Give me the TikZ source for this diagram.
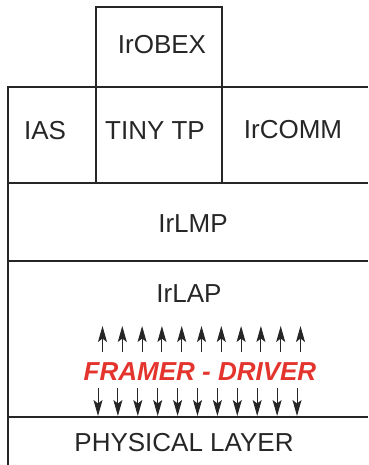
\documentclass[tikz,border=0pt]{standalone}
\usepackage{fontspec}
\setmainfont{Liberation Sans}
\usepackage{tikz}
\usetikzlibrary{arrows.meta, positioning}
\definecolor{framerred}{RGB}{228,52,46}

\begin{document}
\begin{tikzpicture}[
    x=1pt, y=-1pt,
    layer/.style={line width=1.2pt, black!85},
    layername/.style={inner sep=0pt, text=black!85, font=\fontsize{26}{30}\selectfont},
    framer/.style={inner sep=0pt, text=framerred, font=\fontsize{26}{30}\selectfont\bfseries\itshape},
    sig/.style={line width=1pt, black!85, arrows={-Stealth[length=16pt, width=9pt, inset=3.5pt]}}
]
    \useasboundingbox (0,0) rectangle (368,465);

    % stack outlines
    \draw[layer] (96,87) -- (96,7) -- (222,7) -- (222,87);
    \draw[layer] (8,465) -- (8,87) -- (368,87);
    \draw[layer] (96,87) -- (96,183);
    \draw[layer] (222,87) -- (222,183);
    \foreach \y in {183,261,417}
        \draw[layer] (8,\y) -- (368,\y);

    % layer names
    \node[layername] (obex) at (162,45) {IrOBEX};
    \node[layername] (ias) at (45,131) {IAS};
    \node[layername] (tinytp) at (155,131) {TINY TP};
    \node[layername] (comm) at (293,130) {IrCOMM};
    \node[layername] (lmp) at (193,224) {IrLMP};
    \node[layername] (lap) at (189,294) {IrLAP};
    \node[framer] (framer) at (200,372) {FRAMER - DRIVER};
    \node[layername] (phy) at (184,443) {PHYSICAL LAYER};

    % up and down arrows around the framer
    \foreach \i in {0,...,10} {
        \coordinate (up\i a) at (102.5+19.8*\i,352);
        \coordinate (up\i b) at (102.5+19.8*\i,326);
        \draw[sig] (up\i a) -- (up\i b);
        \coordinate (dn\i a) at (98+19.9*\i,388);
        \coordinate (dn\i b) at (98+19.9*\i,416);
        \draw[sig] (dn\i a) -- (dn\i b);
    }
\end{tikzpicture}
\end{document}
